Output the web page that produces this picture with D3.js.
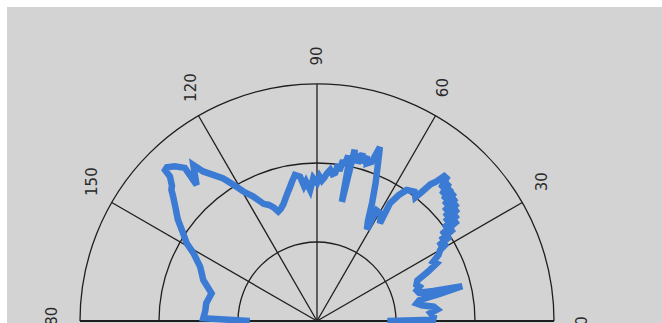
<!DOCTYPE html>
<html>
<head>
<meta charset="utf-8">
<script src="https://cdn.jsdelivr.net/npm/d3@7"></script>
<style>
  html, body { margin: 0; padding: 0; background: #ffffff; }
  svg { display: block; }
</style>
</head>
<body>
<svg id="chart" width="662" height="323"></svg>
<script>
// Polar trace: angle in degrees, radius in ring units (rings at 10, 20, 30)
const angles = [0, 0.6, 2, 4, 5.5, 7, 8.5, 10, 11.5, 12.5, 13.5, 14.5, 15.5, 17, 18.5, 20, 22, 24, 25.7, 27,
  28.5, 30, 31, 31.8, 32.5, 33.2, 34, 34.8, 35.5, 36.2, 37, 37.8, 38.5, 39.2, 40, 40.8, 41.5, 42.3, 43, 43.8,
  44.6, 45.4, 46.2, 47, 47.8, 48.7, 49.5, 50.3, 51, 51.5, 53, 55.6,
  57, 58.2, 57.2, 59, 61.7, 61.4, 63, 65, 67, 68.5, 70.1, 71, 72.5, 73.2, 74, 74.8, 75.5, 76.3, 77, 77.6,
  78.2, 78.6, 79.3, 80, 80.8, 81.5, 82.3, 83, 84, 85, 86.2, 87, 88, 89, 90, 91.5, 93, 94.5, 95.5, 96.7, 98.6,
  100, 101.4, 104, 106, 108, 109.5, 110.9, 112.5, 114.5, 117.1, 119.7,
  121.6, 123.3, 125.4, 127.3, 128.4, 131.5, 130.8, 132.6, 134.3, 135.2, 135.5, 137, 138, 139.1, 141.2, 143.9, 146.7, 149.2, 151.3, 155.1,
  160.2, 165.3, 170.9, 175, 178.6, 180];
const radii = [8.9, 14.7, 14.8, 14.4, 15.3, 14.9, 13.4, 12.8, 13.2, 15.9, 18.9, 15.2, 13.4, 13.2, 13.7, 13.4, 13.7, 15.4, 16.8, 16.5,
  17.5, 18.0, 19.2, 18.1, 20.0, 18.7, 20.9, 19.2, 21.9, 19.9, 22.3, 20.5, 22.8, 20.9, 23.2, 21.3, 23.5, 21.8, 23.8, 22.2,
  23.9, 22.5, 24.2, 23.0, 24.4, 24.4, 23.2, 22.5, 20.9, 20.0, 20.5, 20.1,
  19.0, 17.5, 14.7, 15.8, 15.9, 13.2, 14.2, 16.5, 19.0, 20.9, 23.4, 21.3, 20.9, 21.8, 20.8, 22.0, 20.6, 21.8, 21.0, 22.2,
  15.4, 20.3, 21.3, 20.0, 20.6, 19.2, 20.0, 18.9, 18.7, 19.2, 18.7, 18.2, 17.8, 18.3, 17.5, 18.1, 16.6, 17.7, 17.2, 18.4, 18.7,
  18.0, 17.3, 16.2, 15.4, 14.9, 14.7, 15.4, 15.9, 16.3, 17.7, 18.9,
  20.3, 21.6, 22.7, 23.8, 25.2, 23.0, 25.6, 26.6, 27.2, 27.1, 26.1, 25.1, 24.8, 24.1, 23.0, 21.8, 20.3, 19.2, 17.8, 16.3,
  15.3, 13.8, 14.2, 14.2, 14.4, 8.5];

const ringValues = [10, 20, 30];
const spokeAngles = [0, 30, 60, 90, 120, 150, 180];
const spokeLabels = ["0", "30", "60", "90", "120", "150", "180"];

const svg = d3.select("#chart");
const cx = 317, cy = 321;

svg.append("rect")
  .attr("x", 7).attr("y", 7)
  .attr("width", 662 - 7).attr("height", 323 - 7)
  .attr("fill", "#d3d3d3");

const r = d3.scaleLinear().domain([0, 30]).range([0, 237]);
const toRad = d => d * Math.PI / 180;

const g = svg.append("g").attr("transform", `translate(${cx},${cy})`);

// Concentric half rings
const arc = d3.arc().startAngle(-Math.PI / 2).endAngle(Math.PI / 2);
g.selectAll("path.ring")
  .data(ringValues)
  .join("path")
  .attr("class", "ring")
  .attr("d", v => arc({ innerRadius: r(v), outerRadius: r(v) }))
  .attr("fill", "none")
  .attr("stroke", "#1e1e1e")
  .attr("stroke-width", 1.3);

// Angular spokes
g.selectAll("line.spoke")
  .data(spokeAngles)
  .join("line")
  .attr("class", "spoke")
  .attr("x1", 0).attr("y1", 0)
  .attr("x2", a => r(30) * Math.cos(toRad(a)))
  .attr("y2", a => -r(30) * Math.sin(toRad(a)))
  .attr("stroke", "#1e1e1e")
  .attr("stroke-width", a => (a === 0 || a === 180) ? 2.2 : 1.3);

// Angle labels, set just outside the outer ring and nudged slightly toward the top
const labelR = r(30) + 28;
const labelAngle = a => a + 2 * Math.sin(toRad(2 * a));
g.selectAll("text.angle")
  .data(spokeAngles)
  .join("text")
  .attr("class", "angle")
  .attr("transform", a => {
    const t = toRad(labelAngle(a));
    return `translate(${labelR * Math.cos(t)},${-labelR * Math.sin(t)}) rotate(-90)`;
  })
  .attr("text-anchor", "middle")
  .attr("dominant-baseline", "central")
  .attr("font-family", "DejaVu Sans, sans-serif")
  .attr("font-size", 15)
  .attr("fill", "#2a2a2a")
  .text((a, i) => spokeLabels[i]);

// Trace
const pts = angles.map((a, i) => [a, radii[i]]);
const line = d3.lineRadial()
  .angle(d => toRad(90 - d[0]))
  .radius(d => r(d[1]));
g.append("path")
  .datum(pts)
  .attr("d", line)
  .attr("fill", "none")
  .attr("stroke", "#3b7bd3")
  .attr("stroke-width", 6.5)
  .attr("stroke-linejoin", "miter")
  .attr("stroke-miterlimit", 3);
</script>
</body>
</html>
